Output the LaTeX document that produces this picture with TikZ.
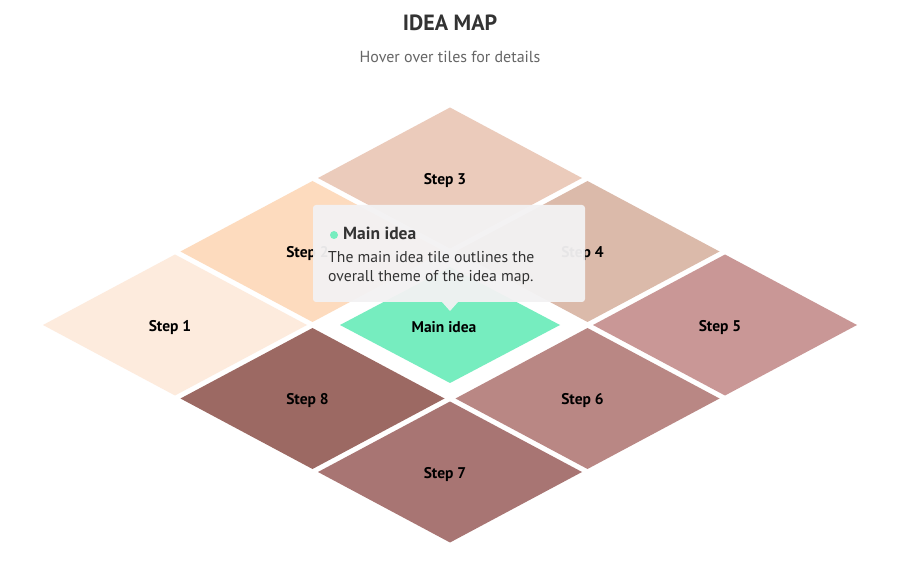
\documentclass[tikz,border=0pt]{standalone}
\usepackage{fontspec}
\setmainfont{PT Sans}
\usetikzlibrary{shapes.geometric}
\definecolor{cone}{HTML}{FDEBDD}
\definecolor{ctwo}{HTML}{FDDBBE}
\definecolor{cthree}{HTML}{EBCBBB}
\definecolor{cfour}{HTML}{DBBAAA}
\definecolor{cfive}{HTML}{C99796}
\definecolor{csix}{HTML}{B98784}
\definecolor{cseven}{HTML}{A87573}
\definecolor{ceight}{HTML}{9C6963}
\definecolor{cmain}{HTML}{76EDBF}
\definecolor{tipbg}{HTML}{F3F2F3}
\definecolor{darktext}{HTML}{333333}
\definecolor{subtext}{HTML}{666666}
\tikzset{
  tilelabel/.style={font=\bfseries\fontsize{15.5}{17}\selectfont, text=black, inner sep=0pt},
  tiptitle/.style={font=\bfseries\fontsize{17.5}{19}\selectfont, text=darktext, inner sep=0pt, anchor=west},
  tipbody/.style={font=\fontsize{15.7}{17}\selectfont, text=darktext, inner sep=0pt, anchor=west},
}
\newcommand\mytile[5]{%
  \fill[#4] (#2-132,#3) -- (#2,#3-70.5) -- (#2+132,#3) -- (#2,#3+70.5) -- cycle;
  \node[tilelabel] (#1) at (#2-5,#3+2.5) {#5};}
\begin{document}
\begin{tikzpicture}[x=1pt,y=-1pt]
\useasboundingbox (0,0) rectangle (900,585);
\fill[white] (0,0) rectangle (900,585);
% title
\node[font=\bfseries\fontsize{22}{24}\selectfont, text=darktext, inner sep=0pt] (title) at (450,23) {IDEA MAP};
\node[font=\fontsize{16}{18}\selectfont, text=subtext, inner sep=0pt] (subtitle) at (450,57) {Hover over tiles for details};
% tiles
\mytile{s1}{175}{325}{cone}{Step 1}
\mytile{s2}{312.5}{251.5}{ctwo}{Step 2}
\mytile{s3}{450}{178}{cthree}{Step 3}
\mytile{s4}{587.5}{251.5}{cfour}{Step 4}
\mytile{s5}{725}{325}{cfive}{Step 5}
\mytile{s6}{587.5}{398.5}{csix}{Step 6}
\mytile{s7}{450}{472}{cseven}{Step 7}
\mytile{s8}{312.5}{398.5}{ceight}{Step 8}
% main tile (scaled)
\fill[cmain] (340,325) -- (450,267) -- (560,325) -- (450,383) -- cycle;
\node[tilelabel] (main) at (444,327.5) {Main idea};
% tooltip
\fill[tipbg, opacity=0.95, rounded corners=3pt] (313,205) rectangle (585,302);
\fill[tipbg, opacity=0.95] (442,302) -- (458,302) -- (450,311) -- cycle;
\fill[cmain] (334,235) circle (4);
\node[tiptitle] (tiphead) at (343,233.5) {Main idea};
\node[tipbody] (tipl1) at (328,257) {The main idea tile outlines the};
\node[tipbody] (tipl2) at (328,278) {overall theme of the idea map.};
\end{tikzpicture}
\end{document}
